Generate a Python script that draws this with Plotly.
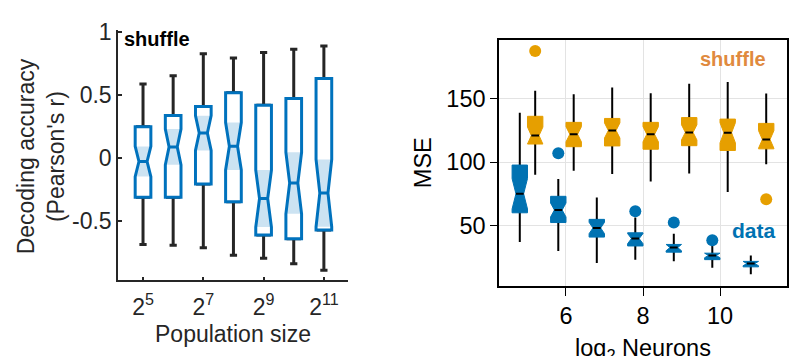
import plotly.graph_objects as go

# ---------------- Left panel data (decoding accuracy, shuffle) ----------------
pop_exp = [5, 6, 7, 8, 9, 10, 11]
left_tick_exp = [5, 7, 9, 11]
left_lw = [-0.685, -0.69, -0.71, -0.77, -0.795, -0.838, -0.89]
left_q1 = [-0.31, -0.31, -0.205, -0.345, -0.61, -0.64, -0.57]
left_med = [-0.026, 0.09, 0.20, 0.095, -0.32, -0.197, -0.277]
left_q3 = [0.25, 0.34, 0.41, 0.52, 0.42, 0.474, 0.633]
left_uw = [0.59, 0.654, 0.83, 0.795, 0.84, 0.865, 0.89]
left_notch = [0.12, 0.142, 0.138, 0.188, 0.226, 0.244, 0.267]

# ---------------- Right panel data (MSE vs log2 neurons) ----------------
log2n = [5, 6, 7, 8, 9, 10, 11]
data_lw = [37.0, 29.8, 20.4, 23.0, 21.7, 16.6, 11.5]
data_q1 = [60.0, 52.3, 40.8, 33.8, 28.9, 23.0, 17.3]
data_med = [75.0, 62.2, 48.0, 39.6, 32.5, 26.3, 19.9]
data_q3 = [97.7, 73.0, 54.8, 44.2, 35.0, 28.1, 21.6]
data_uw = [139.0, 86.7, 72.0, 56.2, 43.4, 33.7, 26.3]
data_notch = [12.0, 5.5, 4.5, 4.0, 3.0, 2.5, 2.0]
data_out_x = [6, 8, 9, 10]
data_out_y = [107.1, 61.3, 52.3, 38.3]

shuf_lw = [90.0, 93.1, 90.6, 84.7, 91.1, 76.5, 98.3]
shuf_q1 = [114.3, 112.2, 112.8, 110.2, 113.0, 109.2, 110.5]
shuf_med = [121.0, 122.0, 125.0, 122.0, 123.5, 123.2, 117.9]
shuf_q3 = [136.2, 131.4, 134.5, 131.4, 135.2, 134.0, 130.6]
shuf_uw = [156.4, 153.6, 158.9, 154.4, 162.0, 163.3, 154.3]
shuf_notch = [8.0, 6.0, 6.0, 6.0, 6.0, 8.0, 7.0]
shuf_out_x = [5, 11]
shuf_out_y = [187.7, 70.7]

W, H = 795, 356
FONT = "Liberation Sans, Arial, Helvetica, sans-serif"
BLUE_L = "#0072BD"
SHADE = "rgba(0,114,189,0.2)"
DARK = "#262626"
BLUE_R = "#0072B2"
ORANGE = "#E69F00"
FS_L = 23
FS_R = 23.5

fig = go.Figure()

def add_box(xaxis, yaxis, x, q1, med, q3, lf, uf, width, line_color, line_width,
            fill, notched=False, notchspan=None, notchwidth=0.25, whiskerwidth=0.0):
    kw = dict(x=x, q1=q1, median=med, q3=q3, lowerfence=lf, upperfence=uf,
              width=width, fillcolor=fill,
              line=dict(color=line_color, width=line_width),
              whiskerwidth=whiskerwidth, boxpoints=False, hoverinfo="skip",
              showlegend=False, xaxis=xaxis, yaxis=yaxis, notched=notched)
    if notched:
        kw["notchspan"] = notchspan
        kw["notchwidth"] = notchwidth
    fig.add_trace(go.Box(**kw))

# ---- Left panel ----
BW = 0.52
NW_L = 0.24
# upper whiskers (box collapsed at q3)
add_box("x", "y", pop_exp, left_q3, left_q3, left_q3, left_q3, left_uw,
        0.48, DARK, 3, "rgba(0,0,0,0)", whiskerwidth=0.5)
# lower whiskers (box collapsed at q1)
add_box("x", "y", pop_exp, left_q1, left_q1, left_q1, left_lw, left_q1,
        0.48, DARK, 3, "rgba(0,0,0,0)", whiskerwidth=0.5)
# white body
add_box("x", "y", pop_exp, left_q1, left_med, left_q3, left_q1, left_q3,
        BW, "white", 0, "white", notched=True, notchspan=left_notch, notchwidth=NW_L)
# notch shading
n_lo = [m - n for m, n in zip(left_med, left_notch)]
n_hi = [m + n for m, n in zip(left_med, left_notch)]
add_box("x", "y", pop_exp, n_lo, left_med, n_hi, n_lo, n_hi,
        BW, SHADE, 0, SHADE, notched=True, notchspan=left_notch, notchwidth=NW_L)
# outline
add_box("x", "y", pop_exp, left_q1, left_med, left_q3, left_q1, left_q3,
        BW, BLUE_L, 3, "rgba(0,0,0,0)", notched=True, notchspan=left_notch, notchwidth=NW_L)

# ---- Right panel ----
RBW = 0.4
groups = [
    (-0.2, BLUE_R, data_lw, data_q1, data_med, data_q3, data_uw, data_notch),
    (0.2, ORANGE, shuf_lw, shuf_q1, shuf_med, shuf_q3, shuf_uw, shuf_notch),
]
for off, col, lw, q1, med, q3, uw, notch in groups:
    xs = [n + off for n in log2n]
    # whiskers
    add_box("x2", "y2", xs, q1, q1, q3, lw, uw, 0.002, "black", 2, "black")
for off, col, lw, q1, med, q3, uw, notch in groups:
    xs = [n + off for n in log2n]
    ns = [min(nn, a - b, m - c) for nn, a, b, m, c in zip(notch, q3, med, med, q1)]
    add_box("x2", "y2", xs, q1, med, q3, q1, q3, RBW, col, 1, col,
            notched=True, notchspan=ns, notchwidth=0.25)
    add_box("x2", "y2", xs, med, med, med, med, med, RBW * 0.5, "black", 2, "rgba(0,0,0,0)")

fig.add_trace(go.Scatter(x=[n - 0.2 for n in data_out_x], y=data_out_y, mode="markers",
                         marker=dict(color=BLUE_R, size=12), xaxis="x2", yaxis="y2",
                         hoverinfo="skip", showlegend=False))
fig.add_trace(go.Scatter(x=[n + 0.2 for n in shuf_out_x], y=shuf_out_y, mode="markers",
                         marker=dict(color=ORANGE, size=12), xaxis="x2", yaxis="y2",
                         hoverinfo="skip", showlegend=False))

def px(x):
    return x / W

def py(y):
    return 1 - y / H

fig.update_layout(
    width=W, height=H, margin=dict(l=0, r=0, t=0, b=0),
    paper_bgcolor="white", plot_bgcolor="white",
    font=dict(family=FONT, color=DARK, size=FS_L),
    boxmode="overlay",
    xaxis=dict(domain=[px(118), px(348)], range=[4.17, 11.8],
               tickvals=left_tick_exp,
               ticktext=[f"2<sup>{e}</sup>" for e in left_tick_exp],
               showline=True, linecolor=DARK, linewidth=1.5, ticks="inside",
               ticklen=4, tickwidth=1.5, tickcolor=DARK, showgrid=False, zeroline=False,
               tickfont=dict(size=FS_L, color=DARK), ticklabelstandoff=5, anchor="y"),
    yaxis=dict(domain=[py(278), py(20)], range=[-0.97, 1.015],
               tickvals=[-0.5, 0, 0.5, 1], ticktext=["-0.5", "0", "0.5", "1"],
               showline=True, linecolor=DARK, linewidth=1.5, ticks="inside",
               ticklen=4, tickwidth=1.5, tickcolor=DARK, showgrid=False, zeroline=False,
               tickfont=dict(size=FS_L, color=DARK), anchor="x"),
    xaxis2=dict(domain=[px(499), px(787)], range=[4.26, 11.74],
                tickvals=[6, 8, 10], showline=True, mirror=True, linecolor="black",
                linewidth=1.5, ticks="outside", ticklen=8, tickwidth=1.2, tickcolor="black",
                showgrid=True, gridcolor="#E3E3E3", gridwidth=1, zeroline=False,
                tickfont=dict(size=FS_R, color="black"), anchor="y2"),
    yaxis2=dict(domain=[py(284), py(30)], range=[2, 196.4],
                tickvals=[50, 100, 150], showline=True, mirror=True, linecolor="black",
                linewidth=1.5, ticks="outside", ticklen=7, tickwidth=1.2, tickcolor="black",
                showgrid=True, gridcolor="#E3E3E3", gridwidth=1, zeroline=False,
                tickfont=dict(size=FS_R, color="black"), anchor="x2"),
    annotations=[
        dict(text="<b>shuffle</b>", x=px(122), y=py(29), xref="paper", yref="paper",
             xanchor="left", yanchor="middle", showarrow=False,
             font=dict(size=20, color="black", family=FONT)),
        dict(text="Decoding accuracy<br>(Pearson's r)", x=px(41), y=py(150),
             xref="paper", yref="paper", textangle=-90, showarrow=False,
             xanchor="center", yanchor="middle",
             font=dict(size=FS_L, color=DARK, family=FONT)),
        dict(text="Population size", x=px(233), y=py(333), xref="paper", yref="paper",
             showarrow=False, xanchor="center", yanchor="middle",
             font=dict(size=FS_L, color=DARK, family=FONT)),
        dict(text="MSE", x=px(423), y=py(157), xref="paper", yref="paper",
             textangle=-90, showarrow=False, xanchor="center", yanchor="middle",
             font=dict(size=FS_R, color="black", family=FONT)),
        dict(text="log<sub>2</sub> Neurons", x=px(643), y=py(332), xref="paper",
             yref="paper", showarrow=False, xanchor="center", yanchor="top",
             font=dict(size=FS_R, color="black", family=FONT)),
        dict(text="<b>shuffle</b>", x=px(733), y=py(50), xref="paper", yref="paper",
             showarrow=False, xanchor="center", yanchor="middle",
             font=dict(size=20, color="#E08A3E", family=FONT)),
        dict(text="<b>data</b>", x=px(754), y=py(226), xref="paper", yref="paper",
             showarrow=False, xanchor="center", yanchor="middle",
             font=dict(size=21, color=BLUE_R, family=FONT)),
    ],
)

fig.write_html("out.html")
